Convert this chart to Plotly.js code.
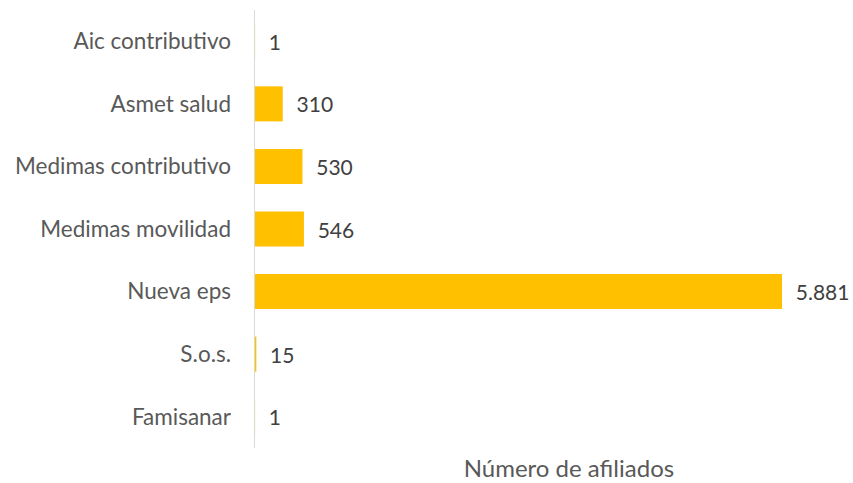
<!DOCTYPE html>
<html>
<head>
<meta charset="utf-8">
<script src="https://cdn.plot.ly/plotly-3.0.1.min.js"></script>
<style>html,body{margin:0;padding:0;background:#fff;}#chart{width:853px;height:483px;}</style>
</head>
<body>
<div id="chart"></div>
<script>
const categories = ["Aic contributivo", "Asmet salud", "Medimas contributivo", "Medimas movilidad", "Nueva eps", "S.o.s.", "Famisanar"];
const afiliados = [1, 310, 530, 546, 5881, 15, 1];
const axisTitle = "Número de afiliados";

const trace = {
  type: 'bar',
  orientation: 'h',
  y: categories,
  x: afiliados,
  marker: {color: '#FFC000'},
  text: afiliados,
  texttemplate: '\u00a0\u00a0%{x:,}',
  textposition: 'outside',
  cliponaxis: false,
  textfont: {family: 'Lato, sans-serif', size: 21, color: '#404040'},
  hoverinfo: 'none'
};

const layout = {
  width: 853, height: 483,
  margin: {l: 255, r: 53, t: 10, b: 35},
  paper_bgcolor: '#ffffff', plot_bgcolor: '#ffffff',
  separators: ',.',
  bargap: 0.44,
  showlegend: false,
  font: {family: 'Lato, sans-serif', size: 22, color: '#595959'},
  title: {text: axisTitle, x: 0.667, xref: 'container', xanchor: 'center', y: 0.03, yref: 'container', yanchor: 'middle', font: {family: 'Lato, sans-serif', size: 24, color: '#595959'}},
  xaxis: {range: [0, 6082], showgrid: false, zeroline: false, showticklabels: false, showline: false, ticks: ''},
  yaxis: {autorange: 'reversed', type: 'category', showgrid: false, zeroline: false, showline: true, linecolor: '#d9d9d9', linewidth: 1.5, ticks: '', ticklabelstandoff: 18, tickfont: {family: 'Lato, sans-serif', size: 22.5, color: '#595959'}}
};

Plotly.newPlot('chart', [trace], layout, {staticPlot: true, displayModeBar: false});
</script>
</body>
</html>
